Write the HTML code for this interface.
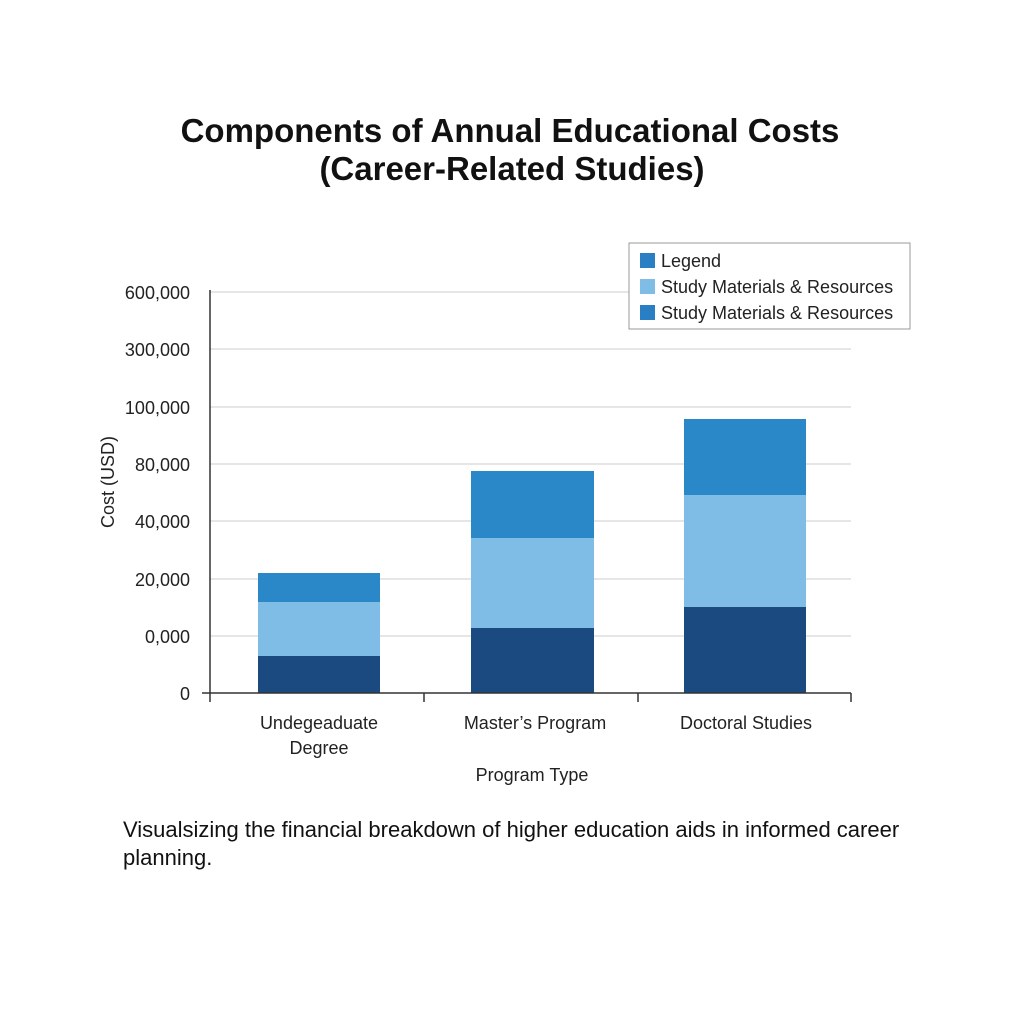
<!DOCTYPE html>
<html><head><style>
html,body{margin:0;padding:0;background:#fff;}
svg{display:block;}
</style></head><body>
<svg width="1024" height="1024" xmlns="http://www.w3.org/2000/svg" font-family="Liberation Sans, DejaVu Sans, sans-serif">
<rect width="1024" height="1024" fill="#fff"/>
<text x="510" y="142" text-anchor="middle" font-size="33" font-weight="bold" fill="#111">Components of Annual Educational Costs</text>
<text x="512" y="180" text-anchor="middle" font-size="33" font-weight="bold" fill="#111">(Career-Related Studies)</text>
<g stroke="#dddddd" stroke-width="1.5">
<line x1="210" y1="292" x2="851" y2="292"/>
<line x1="210" y1="349" x2="851" y2="349"/>
<line x1="210" y1="407" x2="851" y2="407"/>
<line x1="210" y1="464" x2="851" y2="464"/>
<line x1="210" y1="521" x2="851" y2="521"/>
<line x1="210" y1="579" x2="851" y2="579"/>
<line x1="210" y1="636" x2="851" y2="636"/>
</g>
<g font-size="18" fill="#222" text-anchor="end">
<text x="190" y="299">600,000</text>
<text x="190" y="356">300,000</text>
<text x="190" y="414">100,000</text>
<text x="190" y="471">80,000</text>
<text x="190" y="528">40,000</text>
<text x="190" y="586">20,000</text>
<text x="190" y="643">0,000</text>
<text x="190" y="700">0</text>
</g>
<text transform="translate(114,482) rotate(-90)" text-anchor="middle" font-size="18" fill="#222">Cost (USD)</text>
<rect x="258" y="656" width="122" height="37" fill="#1a4a80"/>
<rect x="258" y="602" width="122" height="54" fill="#7fbde6"/>
<rect x="258" y="573" width="122" height="29" fill="#2a88c8"/>
<rect x="471" y="628" width="123" height="65" fill="#1a4a80"/>
<rect x="471" y="538" width="123" height="90" fill="#7fbde6"/>
<rect x="471" y="471" width="123" height="67" fill="#2a88c8"/>
<rect x="684" y="607" width="122" height="86" fill="#1a4a80"/>
<rect x="684" y="495" width="122" height="112" fill="#7fbde6"/>
<rect x="684" y="419" width="122" height="76" fill="#2a88c8"/>
<g stroke="#333" stroke-width="1.5">
<line x1="210" y1="290" x2="210" y2="702"/>
<line x1="202" y1="693" x2="851" y2="693"/>
<line x1="424" y1="693" x2="424" y2="702"/>
<line x1="638" y1="693" x2="638" y2="702"/>
<line x1="851" y1="693" x2="851" y2="702"/>
</g>
<g font-size="18" fill="#222" text-anchor="middle">
<text x="319" y="729">Undegeaduate</text>
<text x="319" y="754">Degree</text>
<text x="535" y="729">Master’s Program</text>
<text x="746" y="729">Doctoral Studies</text>
<text x="532" y="781">Program Type</text>
</g>
<rect x="629" y="243" width="281" height="86" fill="#fff" stroke="#999" stroke-width="1"/>
<rect x="640" y="253" width="15" height="15" fill="#2a7fc4"/>
<rect x="640" y="279" width="15" height="15" fill="#7fbde6"/>
<rect x="640" y="305" width="15" height="15" fill="#2a7fc4"/>
<g font-size="18" fill="#222">
<text x="661" y="267">Legend</text>
<text x="661" y="293">Study Materials &amp; Resources</text>
<text x="661" y="319">Study Materials &amp; Resources</text>
</g>
<g font-size="22" fill="#111">
<text x="123" y="837">Visualsizing the financial breakdown of higher education aids in informed career</text>
<text x="123" y="865">planning.</text>
</g>
</svg>
</body></html>
